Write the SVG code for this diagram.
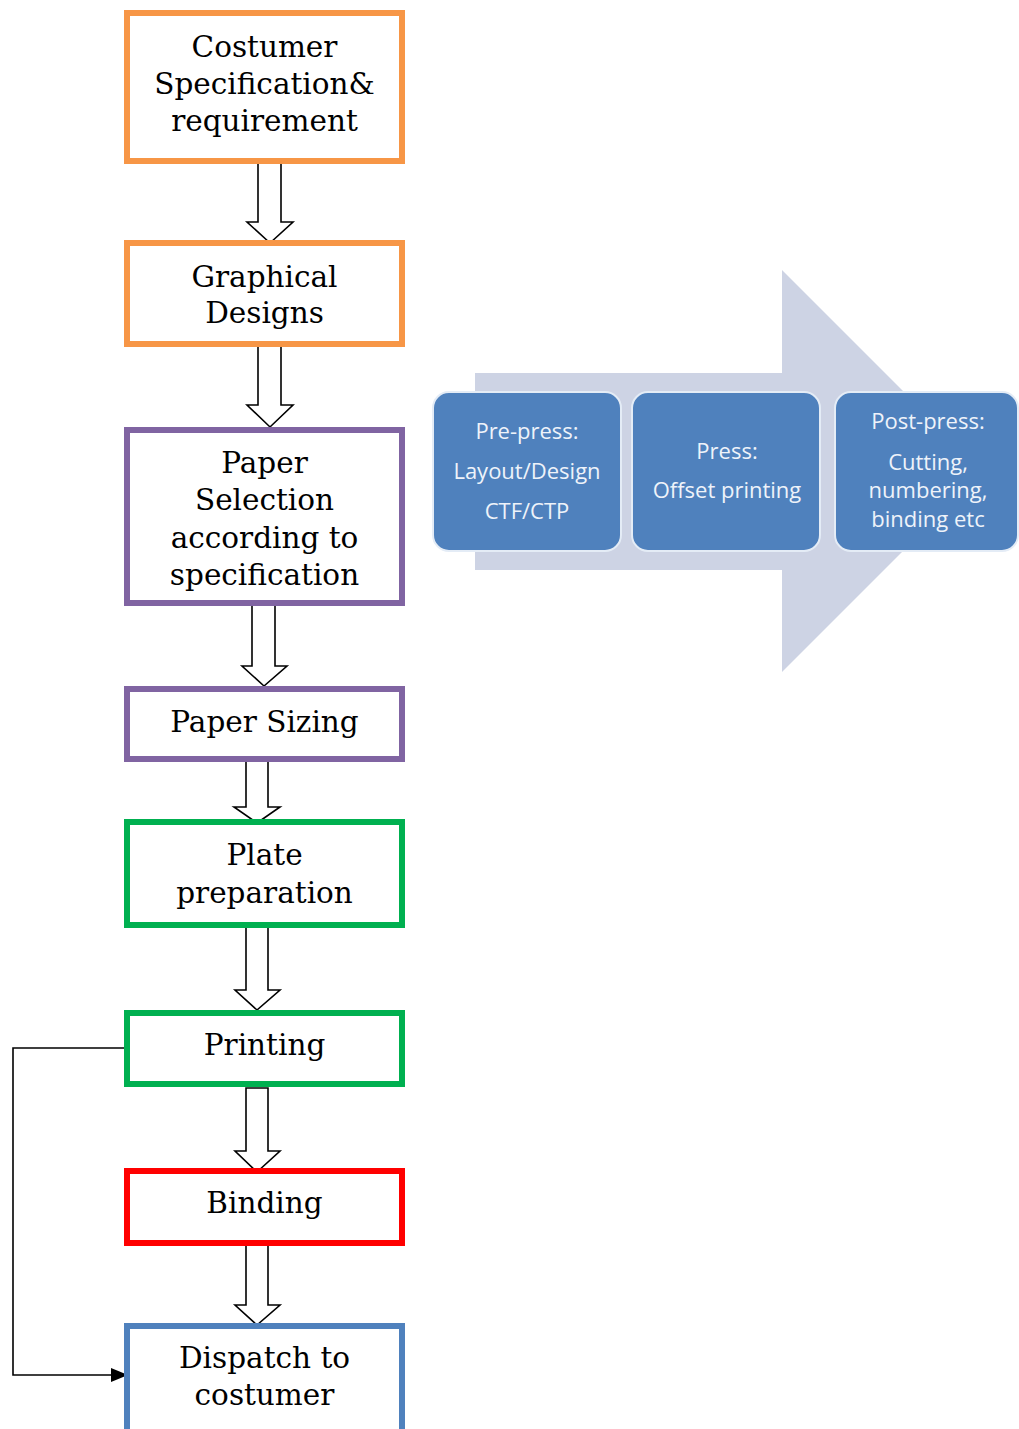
<svg xmlns="http://www.w3.org/2000/svg" width="1019" height="1429" viewBox="0 0 1019 1429">
<style>
.box{fill:#fff;stroke-width:6}
.lbl{font-family:"DejaVu Serif","Liberation Serif",serif;font-size:29.5px;fill:#000;text-anchor:middle}
.blk{fill:#fff;stroke:#000;stroke-width:1.6;stroke-linejoin:miter}
.stage{fill:#4F81BD;stroke:#E4ECF6;stroke-width:2}
.st{font-family:"Open Sans","Liberation Sans",sans-serif;font-size:22px;fill:#EEF3FA;text-anchor:middle}
</style>
<defs>
<marker id="ah" markerWidth="17" markerHeight="14" refX="16" refY="7" orient="auto" markerUnits="userSpaceOnUse">
<path d="M0,0 L17,7 L0,14 Z" fill="#000"/>
</marker>
</defs>
<rect width="1019" height="1429" fill="#fff"/>

<g id="stages">
<polygon points="475,373 782,373 782,270 983,471 782,672 782,570 475,570" fill="#CDD3E4"/>
<g id="prepress">
<rect class="stage" x="433" y="392" width="188" height="159" rx="16"/>
<text class="st" x="527" y="439">Pre-press:</text>
<text class="st" x="527" y="479">Layout/Design</text>
<text class="st" x="527" y="519">CTF/CTP</text>
</g>
<g id="press">
<rect class="stage" x="632" y="392" width="188" height="159" rx="16"/>
<text class="st" x="727" y="459">Press:</text>
<text class="st" x="727" y="498">Offset printing</text>
</g>
<g id="postpress">
<rect class="stage" x="835" y="392" width="183" height="159" rx="16"/>
<text class="st" x="928" y="429">Post-press:</text>
<text class="st" x="928" y="470">Cutting,</text>
<text class="st" x="928" y="498">numbering,</text>
<text class="st" x="928" y="527">binding etc</text>
</g>
</g>

<g id="connectors">
<polygon class="blk" points="258,160 281,160 281,222 293,222 270,243 247,222 258,222"/>
<polygon class="blk" points="258,343 281,343 281,405 293,405 270,427 247,405 258,405"/>
<polygon class="blk" points="252,603 275,603 275,666 287,666 264,686 242,666 252,666"/>
<polygon class="blk" points="246,759 268,759 268,807 280,807 257,823 234,807 246,807"/>
<polygon class="blk" points="246,925 268,925 268,990 280,990 257,1010 235,990 246,990"/>
<polygon class="blk" points="246,1088 268,1088 268,1151 280,1151 257,1172 235,1151 246,1151"/>
<polygon class="blk" points="246,1243 268,1243 268,1305 280,1305 257,1325 235,1305 246,1305"/>
<polyline points="128,1048 13,1048 13,1375 127,1375" fill="none" stroke="#000" stroke-width="1.6" marker-end="url(#ah)"/>
</g>

<g id="n1">
<rect class="box" x="127" y="13" width="275" height="148" stroke="#F79646"/>
<text class="lbl" x="264.5" y="57">Costumer</text>
<text class="lbl" x="264.5" y="94">Specification&amp;</text>
<text class="lbl" x="264.5" y="131">requirement</text>
</g>
<g id="n2">
<rect class="box" x="127" y="243" width="275" height="101" stroke="#F79646"/>
<text class="lbl" x="264.5" y="287">Graphical</text>
<text class="lbl" x="264.5" y="323">Designs</text>
</g>
<g id="n3">
<rect class="box" x="127" y="430" width="275" height="173" stroke="#8064A2"/>
<text class="lbl" x="264.5" y="473">Paper</text>
<text class="lbl" x="264.5" y="510">Selection</text>
<text class="lbl" x="264.5" y="548">according to</text>
<text class="lbl" x="264.5" y="585">specification</text>
</g>
<g id="n4">
<rect class="box" x="127" y="689" width="275" height="70" stroke="#8064A2"/>
<text class="lbl" x="264.5" y="732">Paper Sizing</text>
</g>
<g id="n5">
<rect class="box" x="127" y="822" width="275" height="103" stroke="#00B050"/>
<text class="lbl" x="264.5" y="865">Plate</text>
<text class="lbl" x="264.5" y="903">preparation</text>
</g>
<g id="n6">
<rect class="box" x="127" y="1013" width="275" height="71" stroke="#00B050"/>
<text class="lbl" x="264.5" y="1055">Printing</text>
</g>
<g id="n7">
<rect class="box" x="127" y="1171" width="275" height="72" stroke="#FF0000"/>
<text class="lbl" x="264.5" y="1213">Binding</text>
</g>
<g id="n8">
<rect class="box" x="127" y="1326" width="275" height="130" stroke="#4F81BD"/>
<text class="lbl" x="264.5" y="1368">Dispatch to</text>
<text class="lbl" x="264.5" y="1405">costumer</text>
</g>
</svg>
